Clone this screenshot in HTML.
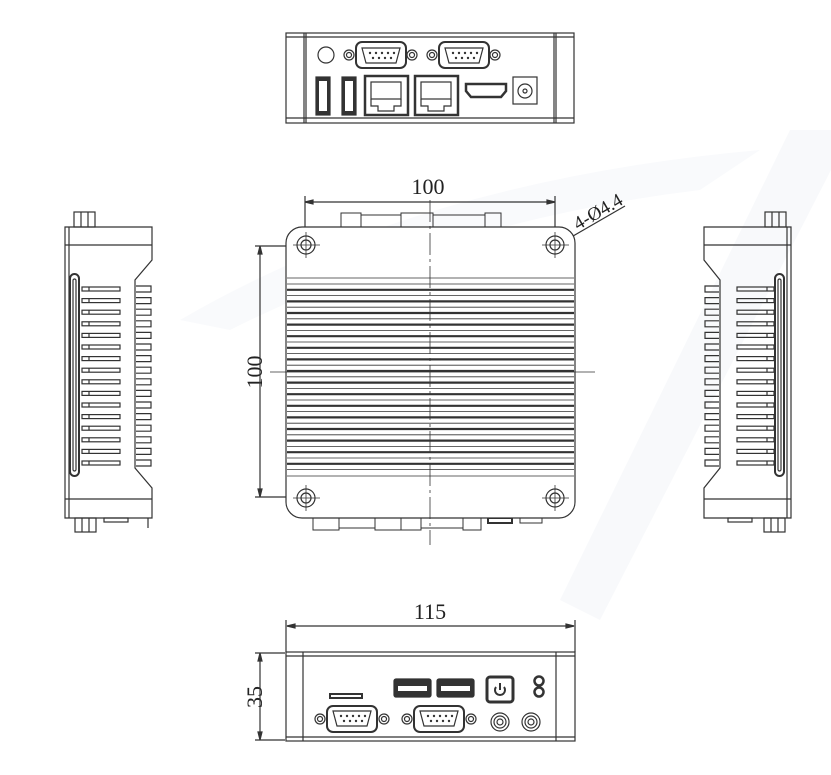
<!DOCTYPE html>
<html><head><meta charset="utf-8"><style>
html,body{margin:0;padding:0;background:#fff;width:831px;height:775px;overflow:hidden}
svg{display:block}
text{font-family:"Liberation Serif","DejaVu Serif",serif;fill:#222;stroke:none}
</style></head><body>
<svg id="s" width="831" height="775" viewBox="0 0 831 775" xmlns="http://www.w3.org/2000/svg" fill="none" stroke="#333" stroke-width="1.2">
<!-- faint watermark -->
<path d="M560 600 L790 130 L831 130 L831 170 L600 620 Z" fill="#f8f9fb" stroke="none"/>
<path d="M180 320 Q420 180 760 150 L700 190 Q450 220 230 330 Z" fill="#f9fafc" stroke="none"/>

<!-- TOP VIEW -->
<rect x="286" y="33" width="288" height="90"/>
<line x1="286" y1="37" x2="574" y2="37"/>
<line x1="286" y1="118" x2="574" y2="118"/>
<line x1="304" y1="33" x2="304" y2="123"/><line x1="306" y1="33" x2="306" y2="123"/>
<line x1="554" y1="33" x2="554" y2="123"/><line x1="556" y1="33" x2="556" y2="123"/>
<circle cx="326" cy="55" r="8"/>
<g id="db9t">
<circle cx="349" cy="55" r="5"/><circle cx="349" cy="55" r="2.5"/>
<circle cx="412" cy="55" r="5"/><circle cx="412" cy="55" r="2.5"/>
<rect x="356" y="42" width="50" height="26" rx="6" stroke-width="2"/>
<path d="M362 48 H400 L396 63 H366 Z"/>
<g fill="#333" stroke="none"><circle cx="370" cy="53" r="1.2"/><circle cx="376" cy="53" r="1.2"/><circle cx="382" cy="53" r="1.2"/><circle cx="388" cy="53" r="1.2"/><circle cx="394" cy="53" r="1.2"/><circle cx="373" cy="58" r="1.2"/><circle cx="379" cy="58" r="1.2"/><circle cx="385" cy="58" r="1.2"/><circle cx="391" cy="58" r="1.2"/></g>
</g>
<use href="#db9t" x="83"/>
<rect x="316" y="77" width="14" height="38" fill="#333"/><rect x="319" y="81" width="8" height="30" fill="#fff" stroke="none"/>
<rect x="342" y="77" width="14" height="38" fill="#333"/><rect x="345" y="81" width="8" height="30" fill="#fff" stroke="none"/>
<g id="rj"><rect x="365" y="76" width="43" height="39" stroke-width="2.5"/><rect x="371" y="82" width="30" height="17"/><path d="M371 99 V106 H378 V111 H394 V106 H401 V99"/></g>
<use href="#rj" x="50"/>
<path d="M466 84 H506 V91 L501 97 H471 L466 91 Z" stroke-width="2.5"/>
<rect x="513" y="77" width="24" height="27"/><circle cx="525" cy="91" r="7"/><circle cx="525" cy="91" r="2"/>

<!-- MAIN VIEW -->
<text x="428" y="194" font-size="22" text-anchor="middle" font-family="Liberation Serif, DejaVu Serif, serif">100</text>
<line x1="305" y1="202" x2="555" y2="202"/>
<path d="M305 202 l8 -2 v4 z M555 202 l-8 -2 v4 z" fill="#333"/>
<line x1="305" y1="196" x2="305" y2="235"/><line x1="555" y1="196" x2="555" y2="235"/>
<text x="601" y="217" font-size="19" transform="rotate(-30 601 217)" text-anchor="middle" font-family="Liberation Serif, DejaVu Serif, serif">4-Ø4.4</text>
<line x1="535" y1="258" x2="625" y2="206"/>
<path d="M550 249 l-7 1 l2 4 z" fill="#333"/>
<text x="262" y="372" font-size="22" transform="rotate(-90 262 372)" text-anchor="middle" font-family="Liberation Serif, DejaVu Serif, serif">100</text>
<line x1="260" y1="246" x2="260" y2="497"/>
<path d="M260 246 l-2 8 h4 z M260 497 l-2 -8 h4 z" fill="#333"/>
<line x1="255" y1="246" x2="300" y2="246"/><line x1="255" y1="497" x2="300" y2="497"/>
<g stroke-width="1">
<rect x="341" y="213" width="20" height="14"/><rect x="361" y="215" width="40" height="12"/><rect x="401" y="213" width="32" height="14"/><rect x="433" y="215" width="52" height="12"/><rect x="485" y="213" width="16" height="14"/>
<rect x="313" y="518" width="26" height="12"/><rect x="339" y="518" width="36" height="10"/><rect x="375" y="518" width="26" height="12"/><rect x="401" y="518" width="20" height="12"/><rect x="421" y="518" width="42" height="10"/><rect x="463" y="518" width="18" height="12"/>
<rect x="488" y="518" width="24" height="5" stroke-width="2"/><rect x="520" y="518" width="22" height="5"/>
</g>
<rect x="286" y="227" width="289" height="291" rx="16" fill="#fff"/>
<g id="fins"></g>
<g>
<circle cx="306" cy="245" r="9"/><circle cx="306" cy="245" r="5"/>
<circle cx="555" cy="245" r="9"/><circle cx="555" cy="245" r="5"/>
<circle cx="306" cy="498" r="9"/><circle cx="306" cy="498" r="5"/>
<circle cx="555" cy="498" r="9"/><circle cx="555" cy="498" r="5"/>
</g>
<g stroke-width="0.8">
<line x1="293" y1="245" x2="320" y2="245"/><line x1="542" y1="245" x2="569" y2="245"/>
<line x1="293" y1="498" x2="320" y2="498"/><line x1="542" y1="498" x2="569" y2="498"/>
<line x1="306" y1="232" x2="306" y2="258"/><line x1="555" y1="232" x2="555" y2="258"/>
<line x1="306" y1="485" x2="306" y2="511"/><line x1="555" y1="485" x2="555" y2="511"/>
<line x1="430" y1="200" x2="430" y2="545" stroke-dasharray="22 4 3 4"/>
<line x1="270" y1="372" x2="595" y2="372"/>
</g>

<!-- LEFT VIEW -->
<rect x="74" y="212" width="21" height="15"/><line x1="81" y1="212" x2="81" y2="227"/><line x1="88" y1="212" x2="88" y2="227"/>
<rect x="75" y="518" width="21" height="14"/><line x1="82" y1="518" x2="82" y2="532"/><line x1="89" y1="518" x2="89" y2="532"/>
<rect x="104" y="518" width="24" height="4"/>
<path d="M65 227 H152 V260 L135 280 V468 L152 488 V518 H65 Z"/>
<line x1="69" y1="227" x2="69" y2="518"/>
<line x1="65" y1="245" x2="152" y2="245"/><line x1="65" y1="499" x2="152" y2="499"/>
<line x1="148" y1="518" x2="148" y2="528"/>
<rect x="70" y="274" width="9" height="202" rx="4.5" stroke-width="2"/>
<rect x="73" y="279" width="3" height="192" rx="1.5"/>
<g id="lf"></g>

<!-- RIGHT VIEW -->
<rect x="765" y="212" width="21" height="15"/><line x1="772" y1="212" x2="772" y2="227"/><line x1="779" y1="212" x2="779" y2="227"/>
<rect x="764" y="518" width="21" height="14"/><line x1="771" y1="518" x2="771" y2="532"/><line x1="778" y1="518" x2="778" y2="532"/>
<rect x="728" y="518" width="24" height="4"/>
<path d="M791 227 H704 V260 L720 280 V468 L704 488 V518 H791 Z"/>
<line x1="787" y1="227" x2="787" y2="518"/>
<line x1="704" y1="245" x2="791" y2="245"/><line x1="704" y1="499" x2="791" y2="499"/>
<rect x="775" y="274" width="9" height="202" rx="4.5" stroke-width="2"/>
<rect x="778" y="279" width="3" height="192" rx="1.5"/>
<g id="rf"></g>

<!-- BOTTOM VIEW -->
<text x="430" y="619" font-size="22" text-anchor="middle" font-family="Liberation Serif, DejaVu Serif, serif">115</text>
<line x1="287" y1="626" x2="574" y2="626"/>
<path d="M287 626 l8 -2 v4 z M574 626 l-8 -2 v4 z" fill="#333"/>
<line x1="286" y1="620" x2="286" y2="652"/><line x1="575" y1="620" x2="575" y2="652"/>
<text x="262" y="697" font-size="22" transform="rotate(-90 262 697)" text-anchor="middle" font-family="Liberation Serif, DejaVu Serif, serif">35</text>
<line x1="260" y1="653" x2="260" y2="740"/>
<path d="M260 653 l-2 8 h4 z M260 740 l-2 -8 h4 z" fill="#333"/>
<line x1="255" y1="653" x2="285" y2="653"/><line x1="255" y1="740" x2="285" y2="740"/>
<rect x="286" y="652" width="289" height="89"/>
<line x1="286" y1="656" x2="575" y2="656"/><line x1="286" y1="737" x2="575" y2="737"/>
<line x1="303" y1="652" x2="303" y2="741"/><line x1="556" y1="652" x2="556" y2="741"/>
<rect x="330" y="694" width="32" height="4" stroke-width="2"/>
<g id="db9b">
<circle cx="320" cy="719" r="5"/><circle cx="320" cy="719" r="2.5"/>
<circle cx="384" cy="719" r="5"/><circle cx="384" cy="719" r="2.5"/>
<rect x="327" y="706" width="50" height="26" rx="6" stroke-width="2"/>
<path d="M333 711 H371 L367 726 H337 Z"/>
<g fill="#333" stroke="none"><circle cx="341" cy="716" r="1.2"/><circle cx="347" cy="716" r="1.2"/><circle cx="353" cy="716" r="1.2"/><circle cx="359" cy="716" r="1.2"/><circle cx="365" cy="716" r="1.2"/><circle cx="344" cy="721" r="1.2"/><circle cx="350" cy="721" r="1.2"/><circle cx="356" cy="721" r="1.2"/><circle cx="362" cy="721" r="1.2"/></g>
</g>
<use href="#db9b" x="87"/>
<rect x="394" y="679" width="37" height="18" rx="2" fill="#333"/><rect x="398" y="686" width="29" height="5" fill="#fff" stroke="none"/>
<rect x="437" y="679" width="37" height="18" rx="2" fill="#333"/><rect x="441" y="686" width="29" height="5" fill="#fff" stroke="none"/>
<rect x="487" y="677" width="26" height="25" rx="3" stroke-width="3"/>
<path d="M496 687 a5 5 0 1 0 8 0" stroke-width="2"/><line x1="500" y1="683" x2="500" y2="690" stroke-width="2"/>
<circle cx="539" cy="681" r="4.5" stroke-width="2.5"/><circle cx="539" cy="692" r="4.5" stroke-width="2.5"/>
<circle cx="500" cy="722" r="9"/><circle cx="500" cy="722" r="6"/><circle cx="500" cy="722" r="3"/>
<circle cx="531" cy="722" r="9"/><circle cx="531" cy="722" r="6"/><circle cx="531" cy="722" r="3"/>
</svg>
<script>
var NS="http://www.w3.org/2000/svg";
function add(g,tag,a){var e=document.createElementNS(NS,tag);for(var k in a)e.setAttribute(k,a[k]);document.getElementById(g).appendChild(e);}
for(var y=284;y<=470;y+=5.8){add("fins","line",{x1:287,y1:y,x2:574,y2:y,"stroke-width":(Math.round((y-284)/5.8)%2?2.2:0.8),stroke:"#333"});}
add("fins","line",{x1:287,y1:278,x2:574,y2:278,"stroke-width":0.8});
add("fins","line",{x1:287,y1:476,x2:574,y2:476,"stroke-width":0.8});
for(var i=0;i<16;i++){var y=287+i*11.6;
add("lf","rect",{x:82,y:y,width:38,height:4});
add("lf","line",{x1:89,y1:y,x2:89,y2:y+4});
add("rf","rect",{x:737,y:y,width:37,height:4});
add("rf","line",{x1:767,y1:y,x2:767,y2:y+4});
add("lf","path",{d:"M136 "+(y-1)+" H151 V"+(y+5)+" H136"});
add("rf","path",{d:"M719 "+(y-1)+" H705 V"+(y+5)+" H719"});
}
</script>
</body></html>
